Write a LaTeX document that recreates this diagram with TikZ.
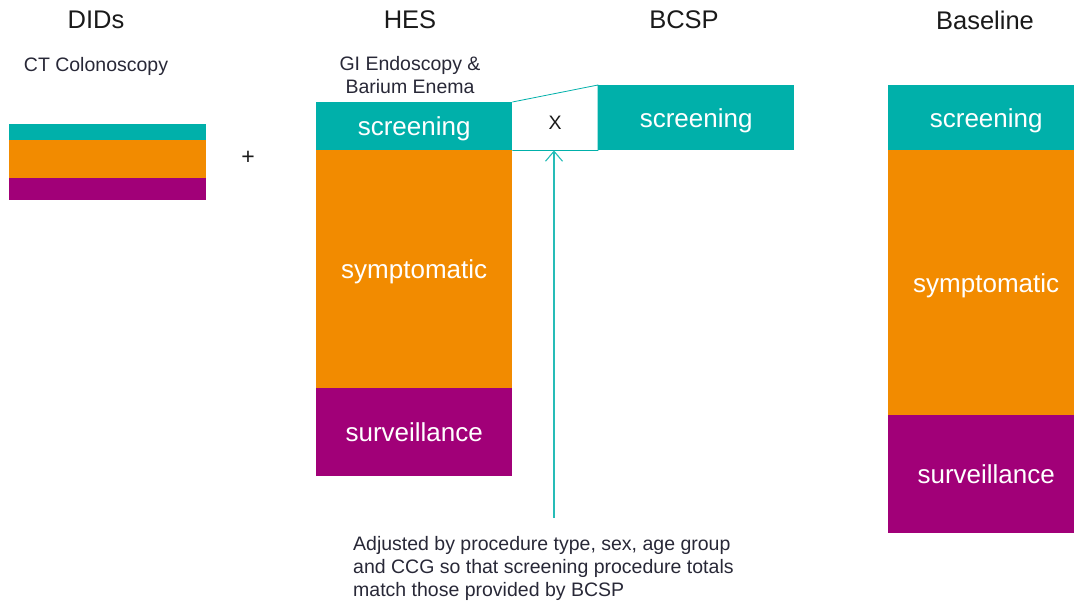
\documentclass[tikz,border=0pt]{standalone}
\usepackage{fontspec}
\setmainfont{Liberation Sans}
\usetikzlibrary{arrows.meta}
\usetikzlibrary{positioning}
\definecolor{screen}{RGB}{0,176,170}
\definecolor{sympt}{RGB}{242,139,0}
\definecolor{surv}{RGB}{161,0,120}
\definecolor{ink}{RGB}{26,26,26}
\definecolor{subink}{RGB}{40,40,55}

\begin{document}
\begin{tikzpicture}[x=1pt, y=-1pt]
\tikzset{band/.style={draw=none, inner sep=0pt, anchor=north west, text=white, text depth=0pt, font=\fontsize{26}{30}\selectfont}}
\tikzset{head/.style={inner sep=0pt, text=ink, font=\fontsize{25.5}{30}\selectfont}}
\tikzset{sub/.style={inner sep=0pt, anchor=base, text=subink, font=\fontsize{19.5}{23}\selectfont}}
\tikzset{note/.style={inner sep=0pt, anchor=north west, align=left, text=subink, font=\fontsize{19.5}{23}\selectfont}}
\useasboundingbox (0,0) rectangle (1074,603);
% headings
\node[head] (did-head) at (96,20) {DIDs};
\node[head] (hes-head) at (410,20) {HES};
\node[head] (bcsp-head) at (684,20) {BCSP};
\node[head] (base-head) at (985,20) {Baseline};
\node[sub] (did-sub) at (96,71) {CT Colonoscopy};
\node[sub] (hes-sub1) at (410,70) {GI Endoscopy \&};
\node[sub] (hes-sub2) at (410,93) {Barium Enema};
% DIDs
\node[band, fill=screen, minimum width=197, minimum height=16] (did-scr) at (9,124) {};
\node[band, fill=sympt, minimum width=197, minimum height=38] (did-sym) at (9,140) {};
\node[band, fill=surv, minimum width=197, minimum height=22] (did-sur) at (9,178) {};
\node[head, font=\fontsize{23}{26}\selectfont] (plus) at (248,158) {+};
% HES
\node[band, fill=screen, minimum width=196, minimum height=48] (hes-scr) at (316,102) {screening};
\node[band, fill=sympt, minimum width=196, minimum height=238] (hes-sym) at (316,150) {symptomatic};
\node[band, fill=surv, minimum width=196, minimum height=88] (hes-sur) at (316,388) {surveillance};
% BCSP
\node[band, fill=screen, minimum width=196, minimum height=65] (bcsp-scr) at (598,85) {screening};
\node[inner sep=0pt, text=ink, font=\fontsize{19.5}{23}\selectfont] (factor) at (555,123) {X};
\draw[screen, line width=0.8pt] (hes-scr.north east) -- (bcsp-scr.north west) -- (bcsp-scr.south west) -- (hes-scr.south east);
% Baseline (cut at the right edge)
\node[band, fill=screen, minimum width=196, minimum height=65] (base-scr) at (888,85) {screening};
\node[band, fill=sympt, minimum width=196, minimum height=265] (base-sym) at (888,150) {symptomatic};
\node[band, fill=surv, minimum width=196, minimum height=118] (base-sur) at (888,415) {surveillance};
% adjustment
\coordinate (foot) at (554,518);
\draw[screen!85!white, line width=1.1pt, -{Straight Barb[length=10pt, width=17pt]}] (foot) -- (foot |- hes-scr.south);
\node[note] (adjust) at (353,536) {Adjusted by procedure type, sex, age group\\and CCG so that screening procedure totals\\match those provided by BCSP};
\end{tikzpicture}
\end{document}
